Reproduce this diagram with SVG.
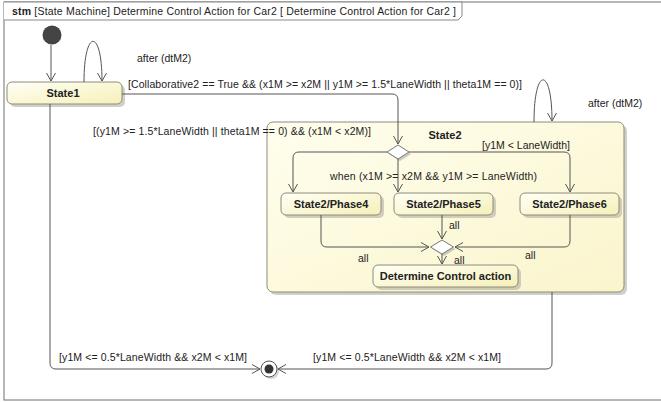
<svg xmlns="http://www.w3.org/2000/svg" width="661" height="402" viewBox="0 0 661 402">
<style>
text{font-family:"Liberation Sans",Arial,sans-serif;font-size:10.5px;fill:#222}
.b{font-weight:bold;font-size:11px}
.st{stroke:#8d8c78;stroke-width:1}
.sh{fill:#a9a9a0;opacity:0.55}
.ln{fill:none;stroke:#555;stroke-width:1}
</style>
<defs>
<linearGradient id="g" x1="0" y1="0" x2="1" y2="1">
<stop offset="0" stop-color="#fffff6"/>
<stop offset="1" stop-color="#f6f0b8"/>
</linearGradient>
<linearGradient id="g2" x1="0" y1="0" x2="1" y2="1">
<stop offset="0" stop-color="#fffeee"/>
<stop offset="1" stop-color="#faf5cc"/>
</linearGradient>
<marker id="a" markerWidth="12" markerHeight="12" refX="9" refY="5" orient="auto" markerUnits="userSpaceOnUse">
<path d="M1,0.5 L9,5 L1,9.5" fill="none" stroke="#555" stroke-width="1"/>
</marker>
</defs>
<rect x="0" y="0" width="661" height="402" fill="#fff"/>
<g id="frame">
<rect x="4" y="2" width="700" height="398" fill="none" stroke="#888" stroke-width="1.2"/>
<path d="M4,2 H462 V16 L458,20 H4" fill="#fff" stroke="#888" stroke-width="1"/>
<text x="12" y="15" font-size="11px" textLength="444"><tspan font-weight="bold">stm</tspan> [State Machine] Determine Control Action for Car2 [ Determine Control Action for Car2 ]</text>
</g>
<g id="State2">
<rect x="270" y="125" width="357" height="170" rx="6" class="sh"/>
<rect x="267" y="122" width="357" height="170" rx="6" fill="url(#g2)" class="st"/>
<text x="445" y="139" class="b" text-anchor="middle">State2</text>
</g>
<g id="initial"><circle cx="52" cy="35" r="9.5" fill="#444"/></g>
<g id="State1">
<rect x="10" y="85" width="115" height="22" rx="5" class="sh"/>
<rect x="7" y="82" width="115" height="22" rx="5" fill="url(#g)" class="st"/>
<text x="63" y="97" class="b" text-anchor="middle">State1</text>
</g>
<g id="choice">
<path d="M400,147 L411,154 L400,161 L389,154 Z" fill="#999" opacity="0.5"/>
<path d="M398,145 L409,152 L398,159 L387,152 Z" fill="#fff" stroke="#777"/>
</g>
<g id="Phase4">
<rect x="284" y="196" width="100" height="22" rx="5" class="sh"/>
<rect x="281" y="193" width="100" height="22" rx="5" fill="url(#g)" class="st"/>
<text x="331" y="208" class="b" text-anchor="middle">State2/Phase4</text>
</g>
<g id="Phase5">
<rect x="397" y="196" width="99" height="22" rx="5" class="sh"/>
<rect x="394" y="193" width="99" height="22" rx="5" fill="url(#g)" class="st"/>
<text x="443.5" y="208" class="b" text-anchor="middle">State2/Phase5</text>
</g>
<g id="Phase6">
<rect x="523" y="196" width="99" height="22" rx="5" class="sh"/>
<rect x="520" y="193" width="99" height="22" rx="5" fill="url(#g)" class="st"/>
<text x="569.5" y="208" class="b" text-anchor="middle">State2/Phase6</text>
</g>
<g id="join">
<path d="M444,242 L455.5,249 L444,256 L432.5,249 Z" fill="#999" opacity="0.5"/>
<path d="M442,240 L453.5,247 L442,254 L430.5,247 Z" fill="#fff" stroke="#777"/>
</g>
<g id="Determine">
<rect x="376" y="268" width="145" height="22" rx="5" class="sh"/>
<rect x="373" y="265" width="145" height="22" rx="5" fill="url(#g)" class="st"/>
<text x="445.5" y="280" class="b" text-anchor="middle">Determine Control action</text>
</g>
<g id="final">
<circle cx="271" cy="371" r="8" fill="#bbb" opacity="0.6"/>
<circle cx="269" cy="369" r="8" fill="#fff" stroke="#555"/>
<circle cx="269" cy="369" r="4.5" fill="#333"/>
</g>
<g id="connectors">
<path class="ln" d="M51,45 V81" marker-end="url(#a)"/>
<path class="ln" d="M84,82 C84,28 102,28 102,81" marker-end="url(#a)"/>
<path class="ln" d="M122,94 H392 Q398,94 398,100 V144" marker-end="url(#a)"/>
<path class="ln" d="M534,122 C534,66 552,66 552,121" marker-end="url(#a)"/>
<path class="ln" d="M387,152 H299 Q293,152 293,158 V192" marker-end="url(#a)"/>
<path class="ln" d="M398,159 V192" marker-end="url(#a)"/>
<path class="ln" d="M409,152 H564 Q570,152 570,158 V192" marker-end="url(#a)"/>
<path class="ln" d="M321,215 V241 Q321,247 327,247 H429" marker-end="url(#a)"/>
<path class="ln" d="M442,215 V239" marker-end="url(#a)"/>
<path class="ln" d="M570,215 V241 Q570,247 564,247 H455" marker-end="url(#a)"/>
<path class="ln" d="M442,254 V264" marker-end="url(#a)"/>
<path class="ln" d="M50,104 V363 Q50,369 56,369 H260" marker-end="url(#a)"/>
<path class="ln" d="M552,292 V363 Q552,369 546,369 H278" marker-end="url(#a)"/>
</g>
<g id="labels">
<text x="137" y="62">after (dtM2)</text>
<text x="128" y="88" textLength="394">[Collaborative2 == True &amp;&amp; (x1M &gt;= x2M || y1M &gt;= 1.5*LaneWidth || theta1M == 0)]</text>
<text x="588" y="107">after (dtM2)</text>
<text x="93" y="135" textLength="278">[(y1M &gt;= 1.5*LaneWidth || theta1M == 0) &amp;&amp; (x1M &lt; x2M)]</text>
<text x="482" y="149" textLength="88">[y1M &lt; LaneWidth]</text>
<text x="330" y="180" textLength="207">when (x1M &gt;= x2M &amp;&amp; y1M &gt;= LaneWidth)</text>
<text x="449" y="229">all</text>
<text x="358" y="262">all</text>
<text x="454" y="264">all</text>
<text x="525" y="259">all</text>
<text x="59" y="361" textLength="188">[y1M &lt;= 0.5*LaneWidth &amp;&amp; x2M &lt; x1M]</text>
<text x="313" y="361" textLength="188">[y1M &lt;= 0.5*LaneWidth &amp;&amp; x2M &lt; x1M]</text>
</g>
</svg>
